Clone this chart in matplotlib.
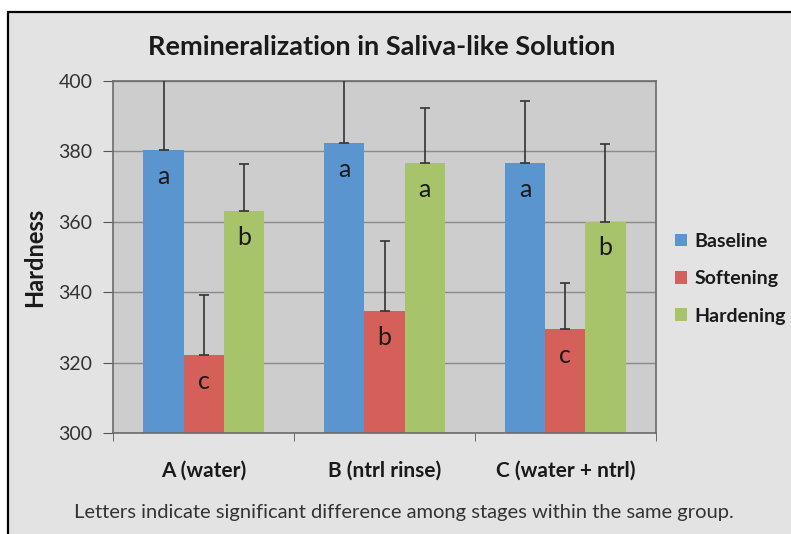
import numpy as np
import matplotlib.pyplot as plt
from matplotlib.patches import Rectangle, Patch

plt.rcParams['font.family'] = ['Lato', 'DejaVu Sans']

groups = ["A (water)", "B (ntrl rinse)", "C (water + ntrl)"]
stages = ["Baseline", "Softening", "Hardening"]

baseline = [380.4, 382.3, 376.6]
softening = [322.3, 334.7, 329.6]
hardening = [363.1, 376.8, 360.1]

baseline_err = [21.0, 20.0, 17.7]
softening_err = [17.0, 19.9, 13.0]
hardening_err = [13.2, 15.5, 22.0]

baseline_letters = ["a", "a", "a"]
softening_letters = ["c", "b", "c"]
hardening_letters = ["b", "a", "b"]

colors = ["#5b95cf", "#d5605a", "#a8c46a"]

fig = plt.figure(figsize=(7.91, 5.34), dpi=100)
fig.patch.set_facecolor("white")

# outer chart frame, drawn behind the axes
frame = Rectangle((8 / 791, -0.05), 1.0, 1 - 12 / 534 + 0.05, transform=fig.transFigure,
                  facecolor="#e3e3e3", edgecolor="black", linewidth=1.6, zorder=-5)
fig.patches.append(frame)

ax = fig.add_axes([0.1432, 0.1886, 0.6858, 0.6597])
ax.set_facecolor("#cdcdcd")

x = np.arange(len(groups))
w = 0.222
series = [(baseline, baseline_err, baseline_letters),
          (softening, softening_err, softening_letters),
          (hardening, hardening_err, hardening_letters)]

for i, (vals, errs, letters) in enumerate(series):
    pos = x + (i - 1) * w
    ax.bar(pos, np.array(vals) - 300, width=w, bottom=300, color=colors[i],
           zorder=2, label=stages[i])
    ax.errorbar(pos, vals, yerr=[np.zeros(len(errs)), errs], fmt="none",
                ecolor="#333333", elinewidth=1.2, capsize=3.5, capthick=1.2, zorder=3)
    for p, v, t in zip(pos, vals, letters):
        ax.annotate(t, (p, v), xytext=(0, -19), textcoords="offset points",
                    ha="center", va="center", fontsize=18, color="#1a1a1a", zorder=4)

ax.set_ylim(300, 400)
ax.set_xlim(-0.5, 2.5)
ax.set_yticks(np.arange(300, 401, 20))
ax.yaxis.grid(True, color="#8a8a8a", linewidth=1.0)
ax.set_axisbelow(True)

ax.set_xticks(x)
ax.set_xticklabels(groups, fontweight="bold", fontsize=15, color="#1a1a1a")
ax.set_xticks([-0.5, 0.5, 1.5, 2.5], minor=True)
ax.tick_params(axis="x", which="major", length=0, pad=20)
ax.tick_params(axis="x", which="minor", length=6, direction="out", color="#555555")
ax.tick_params(axis="y", length=7, direction="out", color="#555555",
               labelsize=14, labelcolor="#333333", pad=8)

for s in ax.spines.values():
    s.set_color("#6b6b6b")
    s.set_linewidth(1.2)

ax.set_ylabel("Hardness", fontweight="bold", fontsize=17, color="#1a1a1a", labelpad=9)

fig.text(0.482, 0.912, "Remineralization in Saliva-like Solution", ha="center", va="center",
         fontsize=19.5, fontweight="bold", color="#1a1a1a")
fig.text(0.51, 0.04, "Letters indicate significant difference among stages within the same group.",
         ha="center", va="center", fontsize=14.5, color="#333333")

handles = [Patch(facecolor=c, edgecolor="none") for c in colors]
fig.legend(handles, stages, loc="center left", bbox_to_anchor=(0.831, 0.478), frameon=False,
           prop={"weight": "bold", "size": 14}, handlelength=0.65, handleheight=0.65,
           handletextpad=0.35, labelspacing=1.05, labelcolor="#1a1a1a")

fig.savefig("out.png", dpi=100)
